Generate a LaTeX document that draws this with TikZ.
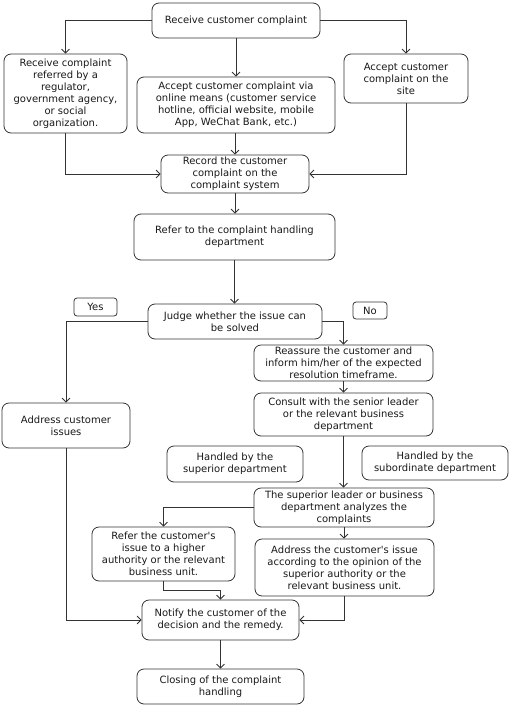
\documentclass[tikz,border=0pt]{standalone}
\usepackage{fontspec}
\setmainfont{DejaVu Sans}[Ligatures=TeXOff]
\usetikzlibrary{arrows.meta}
\begin{document}
\begin{tikzpicture}[x=1pt,y=-1pt,line width=0.8pt,
  box/.style={draw=black!80, rounded corners=7pt, align=center, inner sep=0pt,
    font=\fontsize{10}{12}\selectfont, text=black!90},
  lab/.style={box, rounded corners=3pt},
  arr/.style={draw=black!80, -{Straight Barb[length=4pt,width=8pt]}}]
\useasboundingbox (0,0) rectangle (510,710);

\node[box, minimum width=168pt, minimum height=35pt] (top) at (236,20.5) {Receive customer complaint};
\node[box, minimum width=123pt, minimum height=79pt] (a) at (65.5,93.5) {Receive complaint\\referred by a\\regulator,\\government agency,\\or social\\organization.};
\node[box, minimum width=198pt, minimum height=56pt] (b) at (236,105) {Accept customer complaint via\\online means (customer service\\hotline, official website, mobile\\App, WeChat Bank, etc.)};
\node[box, minimum width=124pt, minimum height=49pt] (c) at (406,78.5) {Accept customer\\complaint on the\\site};
\node[box, minimum width=148pt, minimum height=38pt] (rec) at (235,174) {Record the customer\\complaint on the\\complaint system};
\node[box, minimum width=201pt, minimum height=46pt] (ref) at (234.5,237) {Refer to the complaint handling\\department};
\node[lab, minimum width=43pt, minimum height=18pt] (yes) at (95.5,307) {Yes};
\node[box, minimum width=174pt, minimum height=35pt] (judge) at (235,321.5) {Judge whether the issue can\\be solved};
\node[lab, minimum width=34pt, minimum height=17pt] (no) at (370,310.5) {No};
\node[box, minimum width=128pt, minimum height=45pt] (addr) at (66,425.5) {Address customer\\issues};
\node[box, minimum width=179pt, minimum height=36pt] (reas) at (343.5,363) {Reassure the customer and\\inform him/her of the expected\\resolution timeframe.};
\node[box, minimum width=179pt, minimum height=43pt] (cons) at (343.5,414.5) {Consult with the senior leader\\or the relevant business\\department};
\node[box, minimum width=136pt, minimum height=36pt] (hsup) at (235,464) {Handled by the\\superior department};
\node[box, minimum width=146pt, minimum height=34pt] (hsub) at (435,463) {Handled by the\\subordinate department};
\node[box, minimum width=180pt, minimum height=39pt] (anal) at (344,507.5) {The superior leader or business\\department analyzes the\\complaints};
\node[box, minimum width=143pt, minimum height=54pt] (high) at (163.5,554) {Refer the customer's\\issue to a higher\\authority or the relevant\\business unit.};
\node[box, minimum width=179pt, minimum height=57pt] (acc) at (344.5,567.5) {Address the customer's issue\\according to the opinion of the\\superior authority or the\\relevant business unit.};
\node[box, minimum width=157pt, minimum height=40pt] (notify) at (220.5,620) {Notify the customer of the\\decision and the remedy.};
\node[box, minimum width=167pt, minimum height=35pt] (close) at (220.5,686.5) {Closing of the complaint\\handling};

\draw[arr] (top.west) -| (a.north);
\draw[arr] (top.east) -| (c.north);
\draw[arr] (top.south) -- (b.north);
\draw[arr] (a.south) |- (rec.west);
\draw[arr] (c.south) |- (rec.east);
\draw[arr] (b.south -| rec.north) -- (rec.north);
\draw[arr] (rec.south) -- (rec.south |- ref.north);
\draw[arr] (ref.south) -- (ref.south |- judge.north);
\draw[arr] (judge.west) -| (addr.north);
\draw[arr] (judge.east) -| (reas.north);
\draw[arr] (reas.south) -- (cons.north);
\draw[arr] (cons.south) -- (cons.south |- anal.north);
\draw[arr] (anal.west) -| (high.north);
\draw[arr] (anal.south) -- (anal.south |- acc.north);
\draw[arr] (high.south) -- ++(0,9) -| (notify.north);
\draw[arr] (addr.south) |- (notify.west);
\draw[arr] (acc.south) |- (notify.east);
\draw[arr] (notify.south) -- (close.north);
\end{tikzpicture}
\end{document}
